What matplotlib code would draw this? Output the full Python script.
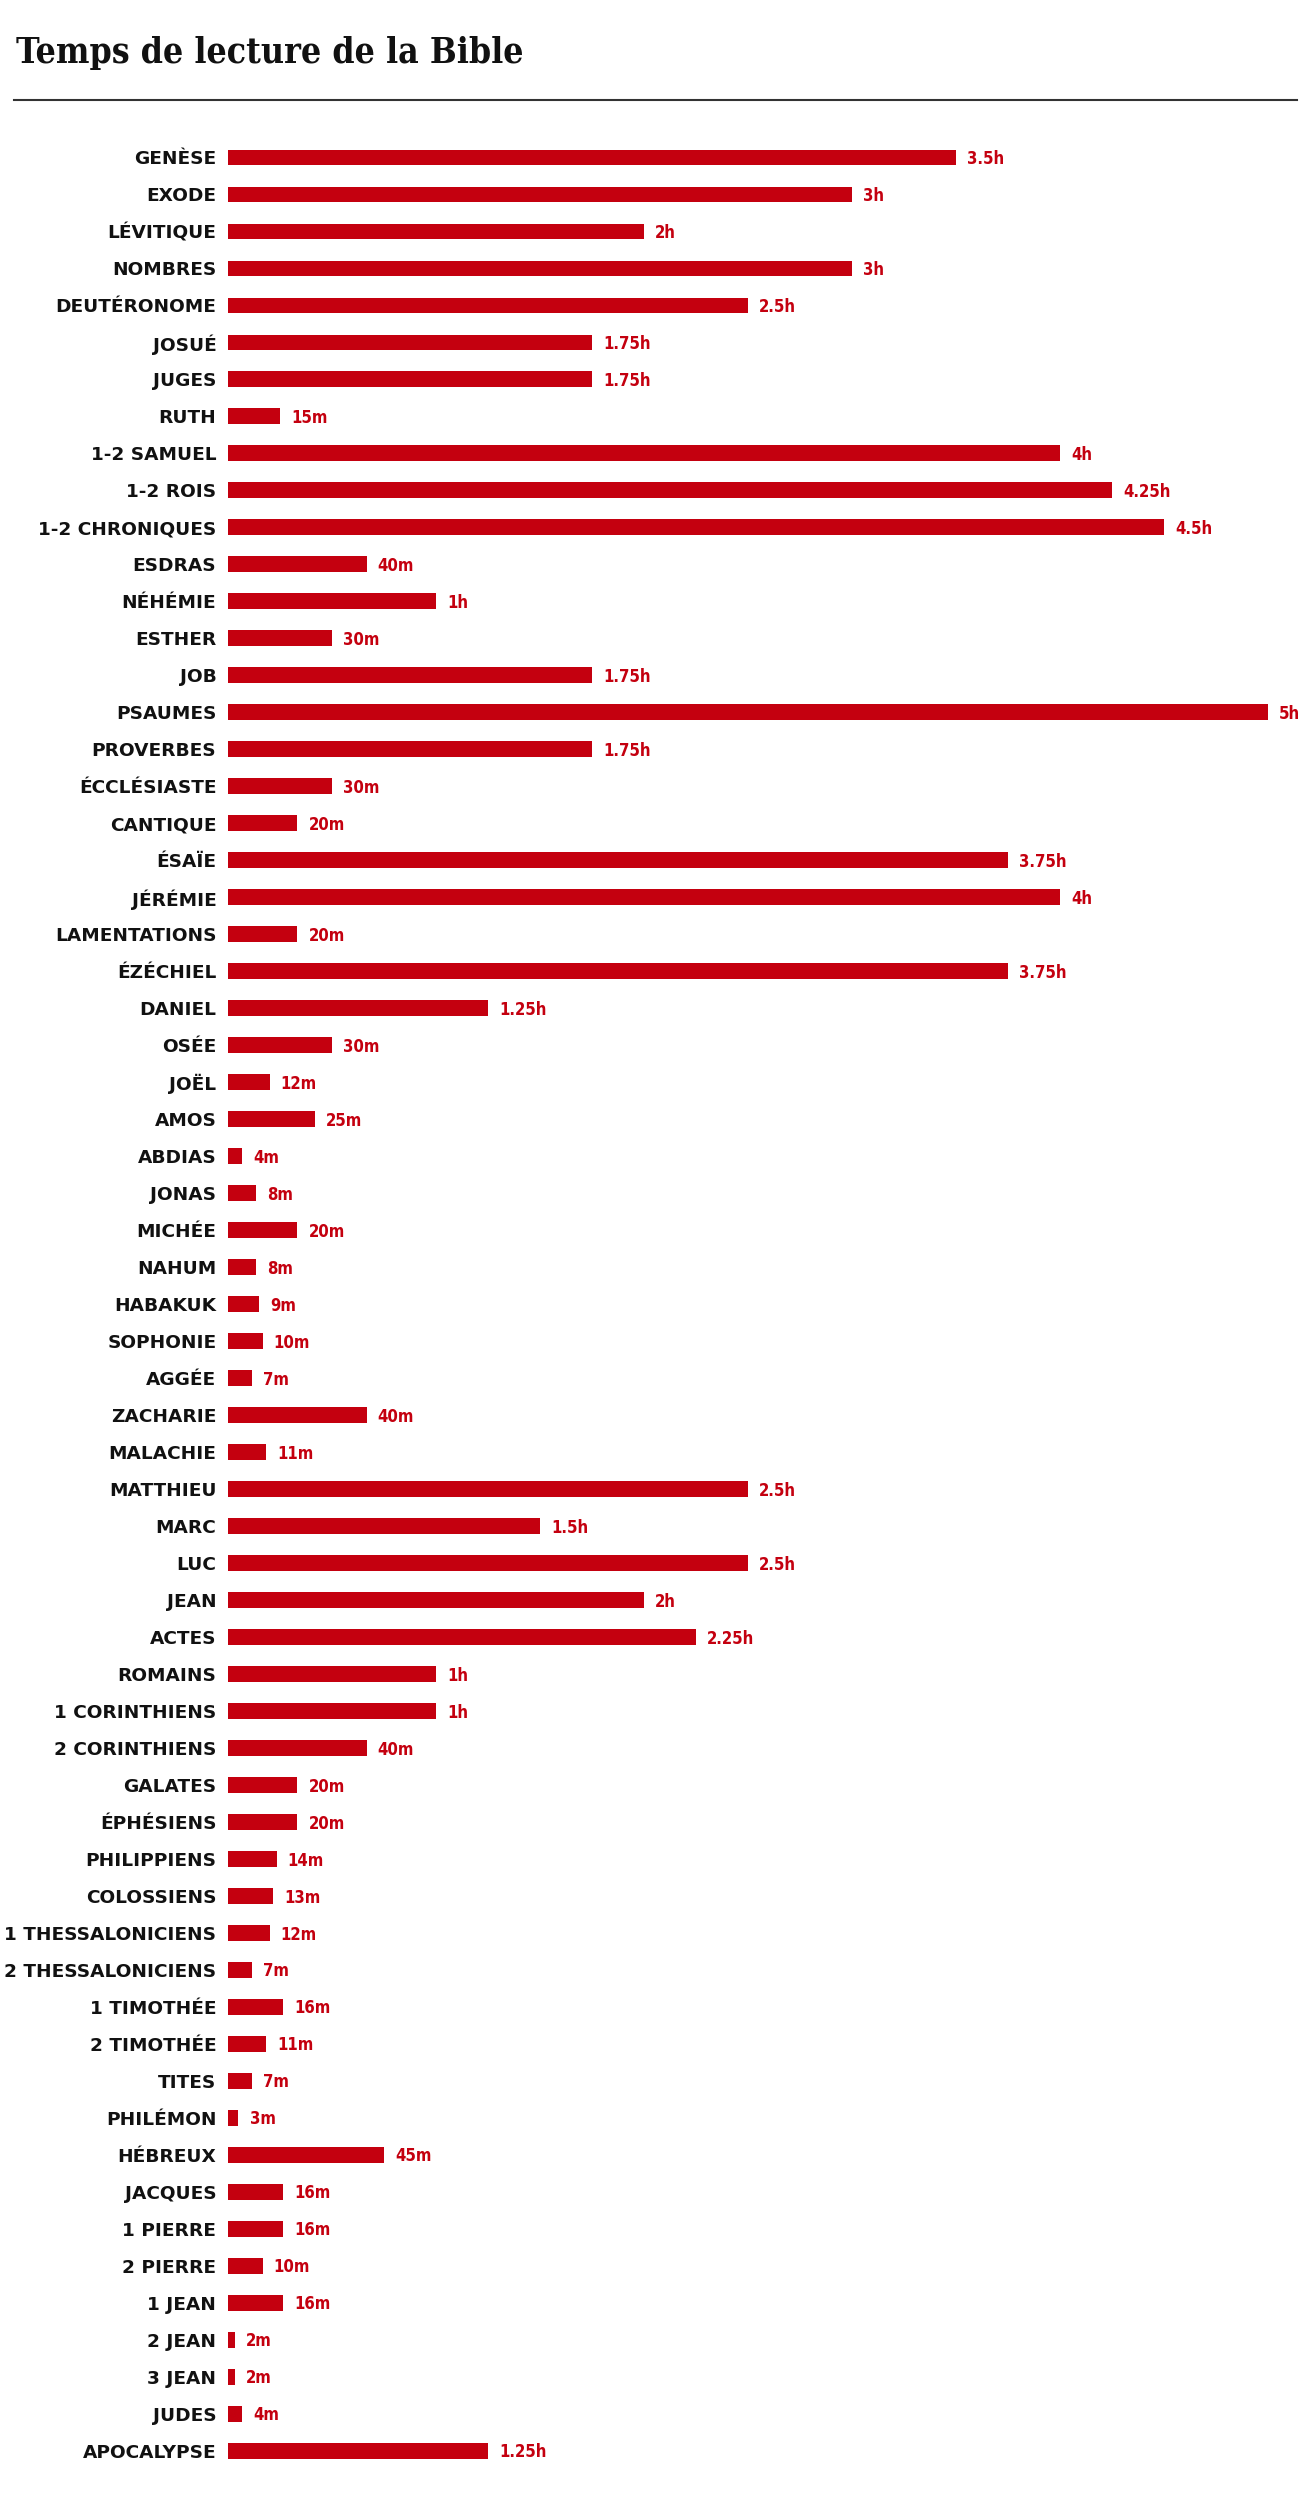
import numpy as np
import matplotlib.pyplot as plt

books = ["GENÈSE", "EXODE", "LÉVITIQUE", "NOMBRES", "DEUTÉRONOME", "JOSUÉ", "JUGES",
         "RUTH", "1-2 SAMUEL", "1-2 ROIS", "1-2 CHRONIQUES", "ESDRAS", "NÉHÉMIE",
         "ESTHER", "JOB", "PSAUMES", "PROVERBES", "ÉCCLÉSIASTE", "CANTIQUE", "ÉSAÏE",
         "JÉRÉMIE", "LAMENTATIONS", "ÉZÉCHIEL", "DANIEL", "OSÉE", "JOËL", "AMOS",
         "ABDIAS", "JONAS", "MICHÉE", "NAHUM", "HABAKUK", "SOPHONIE", "AGGÉE",
         "ZACHARIE", "MALACHIE", "MATTHIEU", "MARC", "LUC", "JEAN", "ACTES", "ROMAINS",
         "1 CORINTHIENS", "2 CORINTHIENS", "GALATES", "ÉPHÉSIENS", "PHILIPPIENS",
         "COLOSSIENS", "1 THESSALONICIENS", "2 THESSALONICIENS", "1 TIMOTHÉE",
         "2 TIMOTHÉE", "TITES", "PHILÉMON", "HÉBREUX", "JACQUES", "1 PIERRE",
         "2 PIERRE", "1 JEAN", "2 JEAN", "3 JEAN", "JUDES", "APOCALYPSE"]

# reading time in minutes
minutes = [210, 180, 120, 180, 150, 105, 105,
           15, 240, 255, 270, 40, 60,
           30, 105, 300, 105, 30, 20, 225,
           240, 20, 225, 75, 30, 12, 25,
           4, 8, 20, 8, 9, 10, 7,
           40, 11, 150, 90, 150, 120, 135, 60,
           60, 40, 20, 20, 14,
           13, 12, 7, 16,
           11, 7, 3, 45, 16, 16,
           10, 16, 2, 2, 4, 75]

value_labels = ["3.5h", "3h", "2h", "3h", "2.5h", "1.75h", "1.75h",
                "15m", "4h", "4.25h", "4.5h", "40m", "1h",
                "30m", "1.75h", "5h", "1.75h", "30m", "20m", "3.75h",
                "4h", "20m", "3.75h", "1.25h", "30m", "12m", "25m",
                "4m", "8m", "20m", "8m", "9m", "10m", "7m",
                "40m", "11m", "2.5h", "1.5h", "2.5h", "2h", "2.25h", "1h",
                "1h", "40m", "20m", "20m", "14m",
                "13m", "12m", "7m", "16m",
                "11m", "7m", "3m", "45m", "16m", "16m",
                "10m", "16m", "2m", "2m", "4m", "1.25h"]

W, H = 1300, 2514
RED = "#c4000f"

fig = plt.figure(figsize=(W / 100, H / 100), dpi=100)
fig.patch.set_facecolor("white")

# axes placed in pixel units
left_px, top_px, bottom_px = 228, 139, 2469.5
ax = fig.add_axes([left_px / W, 1 - bottom_px / H, (W - left_px) / W, (bottom_px - top_px) / H])

y = np.arange(len(books))
ax.barh(y, minutes, height=0.43, color=RED)
ax.set_xlim(0, 300 * (W - left_px) / 1040)
ax.set_ylim(len(books) - 0.5, -0.5)

ax.set_yticks(y)
ax.set_yticklabels(books, fontsize=13.3, fontweight="bold", color="#111111",
                   family="DejaVu Sans")
ax.tick_params(axis="y", length=0, pad=8.4)
ax.set_xticks([])
for s in ax.spines.values():
    s.set_visible(False)

for yi, v, lab in zip(y, minutes, value_labels):
    ax.annotate(lab, (v, yi), xytext=(8, -1), textcoords="offset points",
                va="center", ha="left", color=RED, fontsize=12, fontweight="bold",
                family="DejaVu Sans", fontstretch="condensed")

fig.text(16 / W, 1 - 63 / H, "Temps de lecture de la Bible", fontsize=25.5,
         fontweight="bold", fontstretch="condensed", family="DejaVu Serif",
         color="#111111", ha="left", va="baseline")
fig.add_artist(plt.Line2D([14 / W, 1297 / W], [1 - 100 / H, 1 - 100 / H],
                          color="#333333", linewidth=1.5))

fig.savefig("out.png", dpi=100, facecolor="white")
